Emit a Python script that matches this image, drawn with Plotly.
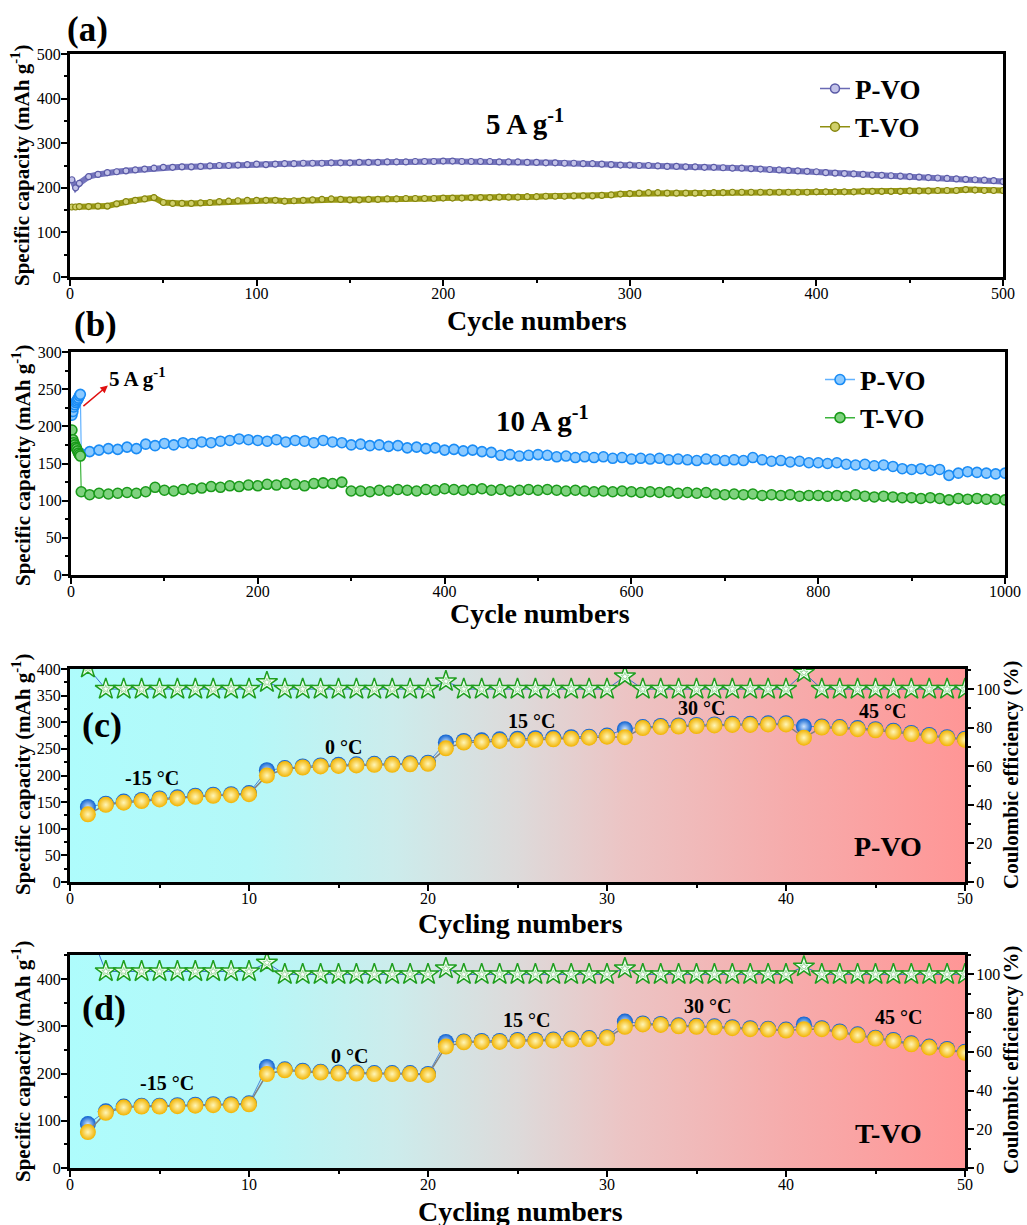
import plotly.graph_objects as go

W, H = 1027, 1225

# ---------------- (a) long-term cycling at 5 A g-1 ----------------
a_cycles = [1, 3] + list(range(5, 501, 5))
a_pvo = [218, 200, 210, 225, 230, 234, 236, 238, 240, 242, 244, 246,
         246, 247, 247, 248, 249, 250, 250, 251, 252, 253,
         252, 253, 254, 254, 255, 255, 255, 256, 256, 256,
         257, 257, 257, 258, 258, 258, 259, 259, 259, 260,
         260, 259, 259, 259, 259, 258, 258, 258, 257, 257,
         256, 256, 255, 255, 254, 254, 253, 252, 251, 251,
         250, 250, 249, 248, 248, 247, 247, 246, 246, 245,
         244, 244, 243, 242, 241, 240, 239, 238, 237, 236,
         234, 233, 232, 231, 230, 229, 228, 227, 226, 225,
         224, 223, 222, 221, 220, 219, 218, 217, 216, 214]
a_tvo = [157, 157, 158, 158, 159, 159, 164, 169, 172, 175, 178, 167,
         165, 165, 165, 166, 167, 169, 170, 171, 172, 172,
         172, 172, 170, 171, 172, 173, 174, 175, 174, 173,
         173, 174, 174, 175, 175, 176, 176, 176, 176, 177,
         177, 177, 178, 178, 178, 179, 179, 179, 180, 180,
         181, 181, 181, 182, 182, 182, 183, 184, 186, 187,
         188, 189, 189, 188, 188, 188, 188, 188, 189, 189,
         190, 190, 190, 190, 190, 190, 190, 190, 190, 191,
         191, 191, 191, 191, 192, 192, 192, 192, 192, 193,
         193, 193, 194, 194, 194, 196, 195, 194, 194, 194]

# ---------------- (b) 5 A g-1 activation then 10 A g-1 ----------------
b_cycles = list(range(1, 11)) + [11] + list(range(20, 1001, 10))
b_pvo = [215, 220, 226, 229, 232, 234, 236, 238, 241, 243,
         163,
         166, 168, 170, 169, 172, 170, 176, 174, 177,
         175, 178, 177, 179, 178, 180, 181, 183, 182, 181,
         180, 182, 179, 181, 180, 178, 181, 179, 178, 175,
         176, 174, 175, 173, 174, 171, 172, 170, 171, 168,
         169, 167, 168, 166, 165, 161, 162, 160, 161, 162,
         161, 159, 160, 158, 159, 158, 159, 157, 158, 156,
         157, 156, 157, 155, 156, 155, 154, 156, 155, 154,
         155, 154, 158, 155, 153, 154, 152, 153, 151, 151,
         150, 151, 149, 148, 149, 147, 148, 146, 143, 142,
         143, 141, 142, 134, 137, 139, 138, 137, 136, 137]
b_tvo = [195, 182, 178, 175, 172, 170, 167, 164, 162, 160,
         112,
         108, 110, 109, 110, 111, 110, 112, 118, 114,
         113, 115, 116, 117, 119, 118, 120, 119, 121, 120,
         122, 121, 123, 122, 120, 123, 124, 123, 125, 113,
         113, 112, 114, 113, 115, 114, 113, 115, 114, 116,
         115, 114, 115, 116, 114, 115, 113, 114, 115, 114,
         115, 114, 113, 114, 113, 112, 113, 112, 113, 112,
         111, 112, 111, 112, 110, 111, 110, 111, 109, 108,
         109, 108, 109, 107, 108, 107, 108, 106, 107, 107,
         106, 107, 106, 108, 106, 105, 106, 105, 104, 104,
         103, 104, 103, 101, 103, 102, 103, 102, 102, 101]

# ---------------- (c)/(d) temperature-dependent rate cycling ----------------
cd_cycles = list(range(1, 51))
c_charge = [141, 147, 151, 154, 157, 159, 162, 164, 165, 167,
            210, 214, 217, 219, 220, 221, 222, 222, 223, 224,
            262, 265, 266, 268, 269, 270, 271, 272, 273, 275,
            287, 291, 293, 294, 295, 296, 297, 297, 298, 298,
            292, 292, 291, 289, 287, 284, 280, 276, 272, 269]
c_discharge = [127, 145, 149, 152, 155, 157, 160, 162, 163, 165,
               200, 212, 215, 217, 218, 219, 220, 220, 221, 222,
               251, 262, 263, 265, 266, 267, 268, 269, 271, 273,
               272, 289, 291, 292, 293, 294, 295, 295, 296, 296,
               271, 290, 289, 287, 285, 282, 278, 274, 270, 267]
c_ce = [111, 100, 100, 100, 100, 100, 100, 100, 100, 100,
        103.5, 100, 100, 100, 100, 100, 100, 100, 100, 100,
        104, 100, 100, 100, 100, 100, 100, 100, 100, 100,
        106.5, 100, 100, 100, 100, 100, 100, 100, 100, 100,
        108.5, 100, 100, 100, 100, 100, 100, 100, 100, 100]

d_charge = [93, 120, 130, 132, 132, 133, 134, 135, 135, 137,
            214, 209, 206, 204, 202, 202, 201, 201, 201, 199,
            267, 268, 269, 269, 271, 271, 272, 274, 275, 277,
            310, 306, 305, 302, 301, 300, 298, 296, 295, 293,
            304, 296, 289, 283, 276, 271, 264, 257, 252, 246]
d_discharge = [76, 117, 128, 130, 130, 131, 132, 133, 133, 135,
               199, 207, 204, 202, 200, 200, 199, 199, 199, 197,
               257, 266, 267, 267, 269, 269, 270, 272, 273, 275,
               299, 304, 303, 300, 299, 298, 296, 294, 293, 291,
               294, 294, 287, 281, 274, 269, 262, 255, 250, 244]
d_ce = [125, 101.5, 101.5, 101.5, 101.5, 101.5, 101.5, 101.5, 101.5, 101.5,
        106, 100, 100, 100, 100, 100, 100, 100, 100, 100,
        103, 100, 100, 100, 100, 100, 100, 100, 100, 100,
        103, 100, 100, 100, 100, 100, 100, 100, 100, 100,
        104, 100, 100, 100, 100, 100, 100, 100, 100, 100]

temp_labels = ["-15 °C", "0 °C", "15 °C", "30 °C", "45 °C"]
c_label_x = [4.6, 15.3, 25.8, 35.3, 45.4]
c_label_y = [195, 253, 303, 327, 322]
d_label_x = [5.4, 15.6, 25.5, 35.6, 46.3]
d_label_y = [180, 237, 313, 343, 320]

# horizontal cold-to-hot background
bg_scale = [[0.0, "rgb(174,252,252)"], [0.2, "rgb(180,248,248)"],
            [0.36, "rgb(204,236,236)"], [0.5, "rgb(221,218,218)"],
            [0.62, "rgb(236,196,196)"], [0.8, "rgb(246,172,172)"],
            [1.0, "rgb(255,150,150)"]]

SERIF = "Liberation Serif"
BLACK = "black"


def xdom(x0, x1):
    return [x0 / W, x1 / W]


def ydom(top, bottom):
    return [1 - bottom / H, 1 - top / H]


fig = go.Figure()

# ---- panel (a)
fig.add_trace(go.Scatter(x=a_cycles, y=a_pvo, mode="lines+markers",
                         line=dict(color="#7474bd", width=6),
                         marker=dict(size=6, color="#c2c2e8", line=dict(color="#5a5aa6", width=1.2)),
                         showlegend=False, xaxis="x", yaxis="y"))
fig.add_trace(go.Scatter(x=a_cycles, y=a_tvo, mode="lines+markers",
                         line=dict(color="#9a9a14", width=6),
                         marker=dict(size=6, color="#cfcf6a", line=dict(color="#84840c", width=1.2)),
                         showlegend=False, xaxis="x", yaxis="y"))
fig.add_trace(go.Scatter(x=[None], y=[None], mode="lines+markers", name="<b>P-VO</b>",
                         line=dict(color="#6a6ab4", width=1.5),
                         marker=dict(size=9, color="#c2c2e8", line=dict(color="#5a5aa6", width=1.5)),
                         legend="legend", xaxis="x", yaxis="y"))
fig.add_trace(go.Scatter(x=[None], y=[None], mode="lines+markers", name="<b>T-VO</b>",
                         line=dict(color="#8f8f10", width=1.5),
                         marker=dict(size=9, color="#cfcf6a", line=dict(color="#84840c", width=1.5)),
                         legend="legend", xaxis="x", yaxis="y"))

# ---- panel (b)
fig.add_trace(go.Scatter(x=b_cycles, y=b_pvo, mode="lines+markers",
                         line=dict(color="#62b2ff", width=1.2),
                         marker=dict(size=10, color="#8ccaff", line=dict(color="#1a8cf5", width=1.6)),
                         showlegend=False, xaxis="x2", yaxis="y2"))
fig.add_trace(go.Scatter(x=b_cycles, y=b_tvo, mode="lines+markers",
                         line=dict(color="#3cb43c", width=1.2),
                         marker=dict(size=10, color="#7fd27f", line=dict(color="#1a9a1a", width=1.6)),
                         showlegend=False, xaxis="x2", yaxis="y2"))
fig.add_trace(go.Scatter(x=[None], y=[None], mode="lines+markers", name="<b>P-VO</b>",
                         line=dict(color="#62b2ff", width=1.5),
                         marker=dict(size=10, color="#8ccaff", line=dict(color="#1a8cf5", width=1.6)),
                         legend="legend2", xaxis="x2", yaxis="y2"))
fig.add_trace(go.Scatter(x=[None], y=[None], mode="lines+markers", name="<b>T-VO</b>",
                         line=dict(color="#3cb43c", width=1.5),
                         marker=dict(size=10, color="#7fd27f", line=dict(color="#1a9a1a", width=1.6)),
                         legend="legend2", xaxis="x2", yaxis="y2"))


# ---- panels (c) and (d)
def rate_panel(xa, ya, yr, ymax, charge, discharge, ce):
    fig.add_trace(go.Scatter(x=[0, 50, 50, 0, 0], y=[0, 0, ymax, ymax, 0], mode="lines",
                             fill="toself", line=dict(width=0),
                             fillgradient=dict(type="horizontal", colorscale=bg_scale),
                             hoverinfo="skip", showlegend=False, xaxis=xa, yaxis=ya))
    fig.add_trace(go.Scatter(x=cd_cycles, y=charge, mode="lines+markers",
                             line=dict(color="#4a86d8", width=1),
                             marker=dict(size=16, color="#0b5fcf",
                                         gradient=dict(type="radial", color="#cfe6ff"),
                                         line=dict(width=0)),
                             showlegend=False, xaxis=xa, yaxis=ya))
    fig.add_trace(go.Scatter(x=cd_cycles, y=discharge, mode="lines+markers",
                             line=dict(color="#808080", width=1.5),
                             marker=dict(size=16, color="#f2b300",
                                         gradient=dict(type="radial", color="#fff6b8"),
                                         line=dict(width=0)),
                             showlegend=False, xaxis=xa, yaxis=ya))
    fig.add_trace(go.Scatter(x=cd_cycles, y=ce, mode="lines+markers",
                             line=dict(color="#3a6fd0", width=1),
                             marker=dict(symbol="star", size=16, color="#effff0",
                                         line=dict(color="#1f9e1f", width=1.5)),
                             showlegend=False, xaxis=xa, yaxis=yr))
    fig.add_trace(go.Scatter(x=cd_cycles, y=ce, mode="markers",
                             marker=dict(symbol="star", size=6, color="white",
                                         line=dict(color="#8fcf8f", width=0.8)),
                             hoverinfo="skip", showlegend=False, xaxis=xa, yaxis=yr))


rate_panel("x3", "y3", "y5", 400, c_charge, c_discharge, c_ce)
rate_panel("x4", "y4", "y6", 451, d_charge, d_discharge, d_ce)

tick_font = dict(family=SERIF, size=16, color=BLACK)


def axis(domain, rng, dtick, minor, anchor, side=None, mirror=True, overlaying=None, standoff=0):
    d = dict(domain=domain, range=rng, anchor=anchor, showline=True, linecolor=BLACK,
             linewidth=3, mirror=mirror, ticks="outside", ticklen=6, tickwidth=2,
             tickcolor=BLACK, tick0=0, dtick=dtick, automargin=False,
             ticklabelstandoff=standoff,
             minor=dict(dtick=minor, ticks="outside", ticklen=3, tickwidth=1.5, tickcolor=BLACK),
             showgrid=False, zeroline=False, tickfont=tick_font, fixedrange=True)
    if side:
        d["side"] = side
    if overlaying:
        d["overlaying"] = overlaying
        d.pop("domain")
    return d


XS, YS = -6, -3
fig.update_layout(
    width=W, height=H, margin=dict(l=0, r=0, t=0, b=0, autoexpand=False),
    paper_bgcolor="white", plot_bgcolor="white",
    xaxis=axis(xdom(70, 1003), [0, 500], 100, 50, "y", standoff=XS),
    yaxis=axis(ydom(54, 277), [0, 500], 100, 50, "x", standoff=YS),
    xaxis2=axis(xdom(71, 1005), [0, 1000], 200, 100, "y2", standoff=XS),
    yaxis2=axis(ydom(352, 575), [0, 300], 50, 25, "x2", standoff=YS),
    xaxis3=axis(xdom(70, 965), [0, 50], 10, 5, "y3", standoff=XS),
    yaxis3=axis(ydom(669, 882), [0, 400], 50, 25, "x3", standoff=YS),
    yaxis5=axis(None, [0, 110.4], 20, 10, "x3", side="right", mirror=False, overlaying="y3",
                standoff=-1),
    xaxis4=axis(xdom(70, 965), [0, 50], 10, 5, "y4", standoff=XS),
    yaxis4=axis(ydom(955, 1168), [0, 451], 100, 50, "x4", standoff=YS),
    yaxis6=axis(None, [0, 110], 20, 10, "x4", side="right", mirror=False, overlaying="y4",
                standoff=-1),
    legend=dict(x=815 / W, y=1 - 108 / H, xanchor="left", yanchor="middle",
                font=dict(family=SERIF, size=27, color=BLACK), bgcolor="rgba(0,0,0,0)",
                itemwidth=30, tracegroupgap=0),
    legend2=dict(x=820 / W, y=1 - 399 / H, xanchor="left", yanchor="middle",
                 font=dict(family=SERIF, size=27, color=BLACK), bgcolor="rgba(0,0,0,0)",
                 itemwidth=30, tracegroupgap=0),
    showlegend=True,
)

ann = []


def text(x, y, s, size, xref="paper", yref="paper", angle=0, bold=True):
    ann.append(dict(x=x, y=y, xref=xref, yref=yref, text=f"<b>{s}</b>" if bold else s,
                    showarrow=False, textangle=angle, xanchor="center", yanchor="middle",
                    font=dict(family=SERIF, size=size, color=BLACK)))


ytitle = "Specific capacity (mAh g<sup>-1</sup>)"
# panel letters
text(87 / W, 1 - 30 / H, "(a)", 35)
text(95 / W, 1 - 324 / H, "(b)", 35)
text(1.8, 295, "(c)", 36, "x3", "y3")
text(1.9, 338, "(d)", 36, "x4", "y4")
# axis titles
text(537 / W, 1 - 320 / H, "Cycle numbers", 28)
text(540 / W, 1 - 613 / H, "Cycle numbers", 28)
text(520 / W, 1 - 923 / H, "Cycling numbers", 28)
text(520 / W, 1 - 1211 / H, "Cycling numbers", 28)
for yc in (166, 466, 775, 1062):
    text(21 / W, 1 - yc / H, ytitle, 21, angle=-90)
for yc in (775, 1060):
    text(1011 / W, 1 - yc / H, "Coulombic efficiency (%)", 21, angle=-90)
# current density labels
text(244, 348, "5 A g<sup>-1</sup>", 29, "x", "y")
text(505, 210, "10 A g<sup>-1</sup>", 29, "x2", "y2")
text(71, 266, "5 A g<sup>-1</sup>", 21, "x2", "y2")
ann.append(dict(x=39.5, y=255, xref="x2", yref="y2", ax=-26, ay=22, text="",
                showarrow=True, arrowhead=2, arrowsize=1, arrowwidth=1.5, arrowcolor="#e01010"))
# temperature labels and sample names
for s, x, y in zip(temp_labels, c_label_x, c_label_y):
    text(x, y, s, 20, "x3", "y3")
for s, x, y in zip(temp_labels, d_label_x, d_label_y):
    text(x, y, s, 20, "x4", "y4")
text(45.7, 66, "P-VO", 28, "x3", "y3")
text(45.7, 74, "T-VO", 28, "x4", "y4")

fig.update_layout(annotations=ann)
fig.write_html("out.html")
